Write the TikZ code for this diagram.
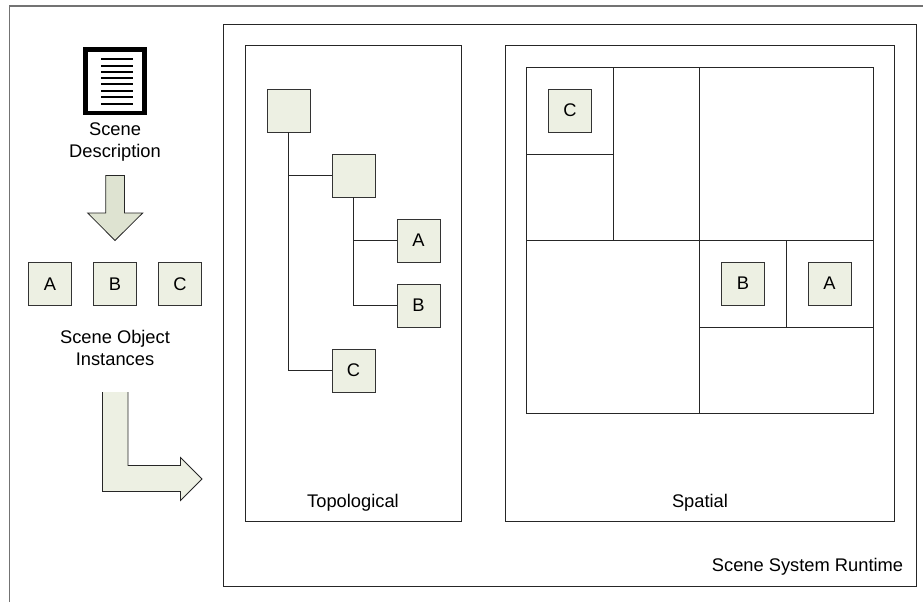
\documentclass[tikz,border=0pt]{standalone}
\usepackage{fontspec}
\setmainfont{Liberation Sans}
\usetikzlibrary{positioning, shapes, arrows}
\definecolor{boxfill}{rgb}{0.93,0.94,0.89}
\definecolor{downfill}{rgb}{0.87,0.89,0.82}
\begin{document}
\begin{tikzpicture}[x=1pt,y=-1pt]
\tikzstyle{every node}=[font=\fontsize{18.3}{22}\selectfont, align=center, inner sep=0pt];
\tikzstyle{objbox}=[draw=black!80, fill=boxfill, minimum size=43pt, line width=0.9pt];
\tikzstyle{frame}=[draw=black!85, line width=1pt];
\useasboundingbox (0,0) rectangle (923,602);
% outer border, open at the bottom and on the right
\draw [color=black!55, line width=1.4pt] (9.5,602) -- (9.5,6) -- (923,6);
% scene description
\draw [line width=4.3pt] (85.5,49.5) rectangle (144.5,113);
\foreach \y in {59,65.7,72,78.3,84.3,91,97.3,104.3}
  \draw [line width=2.2pt] (101,\y) -- (133,\y);
\path (115,142.5) node (descr) {Scene\\Description};
\draw [frame, fill=downfill, line width=0.8pt] (105.7,175.5) -- (124.5,175.5) -- (124.5,213) -- (142.7,213) -- (115,240.5) -- (87.7,213) -- (105.7,213) -- cycle;
% instances
\path (50,284) node [objbox] (instA) {A};
\path (115,284) node [objbox] (instB) {B};
\path (180,284) node [objbox] (instC) {C};
\path (115,348) node (instances) {Scene Object\\Instances};
\fill [boxfill] (102.5,392) -- (128,392) -- (128,465.5) -- (180.5,465.5) -- (180.5,457.5) -- (202,479) -- (180.5,500.5) -- (180.5,491.5) -- (102.5,491.5) -- cycle;
\draw [frame, line width=0.8pt] (128,392) -- (128,465.5) -- (180.5,465.5) -- (180.5,457.5) -- (202,479) -- (180.5,500.5) -- (180.5,491.5) -- (102.5,491.5) -- (102.5,392);
% runtime
\draw [frame] (223,24.5) rectangle (916,586.5);
\path (807.5,567) node (runtime) {Scene System Runtime};
% topological
\draw [frame] (245,45.5) rectangle (461.5,521.5);
\path (353,502.5) node (topo) {Topological};
\path (288.5,110.5) node [objbox] (root) {};
\path (353.5,175.5) node [objbox] (inner) {};
\path (418.5,240.5) node [objbox] (treeA) {A};
\path (418.5,305.5) node [objbox] (treeB) {B};
\path (353.5,370.5) node [objbox] (treeC) {C};
\draw [frame] (root) |- (inner);
\draw [frame] (root) |- (treeC);
\draw [frame] (inner) |- (treeA);
\draw [frame] (inner) |- (treeB);
% spatial
\draw [frame] (505,45.5) rectangle (894,521.5);
\path (700,502.5) node (spatial) {Spatial};
\draw [frame] (526.5,67.5) rectangle (873,413.5);
\draw [frame] (526.5,240.5) -- (873,240.5);
\draw [frame] (699.5,67.5) -- (699.5,413.5);
\draw [frame] (613,67.5) -- (613,240.5);
\draw [frame] (526.5,154) -- (613,154);
\draw [frame] (699.5,327) -- (873,327);
\draw [frame] (786,240.5) -- (786,327);
\path (570,110.5) node [objbox] (cellC) {C};
\path (743,283.5) node [objbox] (cellB) {B};
\path (829.5,283.5) node [objbox] (cellA) {A};
\end{tikzpicture}
\end{document}
